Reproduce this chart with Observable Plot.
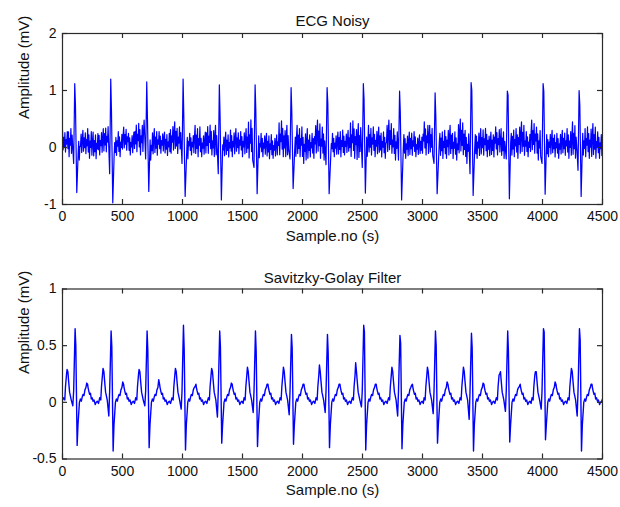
<!DOCTYPE html>
<html><head><meta charset="utf-8">
<script src="https://cdn.jsdelivr.net/npm/d3@7"></script>
<script src="https://cdn.jsdelivr.net/npm/@observablehq/plot@0.6"></script>
<style>
html,body{margin:0;padding:0;background:#fff;}
#chart{width:620px;height:507px;background:#fff;}
#chart svg{display:block;}
</style></head><body><div id="chart"></div>
<script>
// ---- tick labels ----
const xTicks = [0, 500, 1000, 1500, 2000, 2500, 3000, 3500, 4000, 4500];
const yTicksTop = [-1, 0, 1, 2];
const yTicksBottom = [-0.5, 0, 0.5, 1];
const titles = ["ECG Noisy", "Savitzky-Golay Filter"];
const xLabel = "Sample.no (s)";
const yLabel = "Amplitude (mV)";

// ---- beats (sample positions of R peaks) ----
const beatPos = [105, 405, 705, 1008, 1310, 1608, 1908, 2208, 2510, 2812, 3108, 3408, 3710, 4008, 4308];

// noisy ECG: QRS values per beat
const qNoisy  = [-0.28, -0.46, -0.20, -0.28, -0.46, -0.35, -0.20, -0.30, -0.35, -0.22, -0.28, -0.46, -0.20, -0.28, -0.40];
const rNoisy  = [1.12, 1.20, 1.15, 1.20, 1.10, 1.10, 1.05, 1.05, 1.12, 0.99, 0.96, 1.14, 0.99, 1.12, 1.00];
const r2Noisy = [0.74, 0.65, 0.51, 0.54, 0.57, 0.65, 0.61, 0.77, 0.84, 0.62, 0.55, 1.00, 0.92, 0.98, 0.74];
const sNoisy  = [-0.79, -0.97, -0.77, -0.86, -0.92, -0.81, -0.72, -0.81, -0.80, -0.92, -0.81, -0.84, -0.90, -0.82, -0.86];

// noisy ECG: upper / lower extent of the noise band in each 50-sample bin
const noiseHi = [
 0.30,0.42,0.22,0.30,0.36,0.27,0.33,0.39,0.22,0.30,
 0.36,0.27,0.45,0.48,0.25,0.33,0.30,0.27,0.45,0.39,
 0.22,0.27,0.39,0.27,0.42,0.39,0.25,0.27,0.33,0.30,
 0.33,0.52,0.25,0.27,0.25,0.22,0.50,0.39,0.25,0.39,
 0.33,0.27,0.48,0.39,0.25,0.27,0.33,0.30,0.50,0.42,
 0.25,0.39,0.36,0.30,0.48,0.36,0.25,0.27,0.30,0.22,
 0.48,0.39,0.25,0.33,0.39,0.30,0.50,0.33,0.25,0.33,
 0.36,0.27,0.39,0.33,0.25,0.36,0.45,0.30,0.48,0.39,
 0.25,0.30,0.27,0.30,0.36,0.45,0.25,0.39,0.42,0.30];
const noiseLo = [
 -0.10,-0.16,-0.22,-0.13,-0.19,-0.22,-0.13,-0.10,-0.22,-0.16,
 -0.07,-0.13,-0.10,-0.13,-0.22,-0.16,-0.10,-0.16,-0.10,-0.13,
 -0.22,-0.13,-0.19,-0.16,-0.13,-0.22,-0.20,-0.19,-0.16,-0.13,
 -0.16,-0.22,-0.20,-0.16,-0.22,-0.19,-0.16,-0.22,-0.20,-0.19,
 -0.28,-0.19,-0.16,-0.22,-0.20,-0.16,-0.19,-0.13,-0.19,-0.28,
 -0.20,-0.16,-0.16,-0.19,-0.13,-0.22,-0.20,-0.19,-0.16,-0.16,
 -0.13,-0.16,-0.20,-0.22,-0.19,-0.22,-0.16,-0.28,-0.20,-0.19,
 -0.16,-0.19,-0.13,-0.22,-0.20,-0.19,-0.16,-0.16,-0.13,-0.22,
 -0.20,-0.16,-0.19,-0.16,-0.19,-0.22,-0.20,-0.19,-0.22,-0.19];
// position of successive samples inside the band (0 = bottom, 1 = top), read from a close-up of the texture
const noiseTexture = [1.0, 0.15, 0.7, 0.3, 0.9, 0.05, 0.6, 0.4, 0.95, 0.2, 0.75, 0.0, 0.55, 0.35, 0.85, 0.1, 0.65];

// filtered ECG: wave values per beat
const pFilt  = [0.29, 0.30, 0.29, 0.30, 0.30, 0.31, 0.31, 0.33, 0.35, 0.31, 0.31, 0.31, 0.25, 0.27, 0.30];
const qFilt  = [-0.03, -0.12, -0.03, -0.06, -0.13, -0.09, -0.11, -0.09, -0.04, -0.12, -0.10, -0.15, -0.08, -0.06, -0.12];
const rFilt  = [0.65, 0.63, 0.63, 0.68, 0.63, 0.63, 0.60, 0.60, 0.68, 0.59, 0.63, 0.61, 0.63, 0.65, 0.65];
const r2Filt = [0.50, 0.49, 0.46, 0.47, 0.49, 0.45, 0.48, 0.44, 0.62, 0.52, 0.50, 0.48, 0.45, 0.62, 0.55];
const sFilt  = [-0.38, -0.43, -0.40, -0.42, -0.36, -0.39, -0.37, -0.40, -0.42, -0.41, -0.36, -0.43, -0.35, -0.33, -0.43];
const tFilt  = [0.17, 0.18, 0.20, 0.14, 0.17, 0.16, 0.16, 0.16, 0.16, 0.15, 0.18, 0.17, 0.14, 0.18, 0.16];
// beat outline: [offset from R (samples), value or wave name]
const beatShape = [[-95, 0.04], [-86, 0.02], [-80, 0.14], [-72, 0.24], [-67, "p"], [-60, 0.27], [-55, 0.2], [-46, 0.09],
  [-38, 0.05], [-32, 0.02], [-19, "q"], [-12, 0.1], [0, "r"], [6, "r2"], [17, "s"], [24, -0.2], [36, 0.0], [44, 0.03],
  [52, 0.01], [60, 0.05], [66, 0.07], [74, 0.06], [82, 0.11], [90, 0.13], [97, "t"], [104, 0.16], [108, 0.13],
  [114, 0.1], [121, 0.07], [128, 0.08], [135, 0.03], [142, 0.04], [150, 0.01], [158, 0.02], [168, -0.02],
  [176, 0.0], [185, 0.01], [195, -0.01]];
const filtStart = 0.02, filtEnd = 0.03;

// ---- build series ----
const waves = {p: pFilt, q: qFilt, r: rFilt, r2: r2Filt, s: sFilt, t: tFilt};
const filtered = [{x: 0, y: filtStart}];
beatPos.forEach((r, i) => {
  for (const [o, v] of beatShape) {
    const x = r + o;
    if (x > 0 && x < 4500) filtered.push({x, y: typeof v === "string" ? waves[v][i] : v});
  }
});
filtered.push({x: 4500, y: filtEnd});

const qrsPts = beatPos.flatMap((r, i) => [
  {x: r - 12, y: qNoisy[i]}, {x: r - 3, y: rNoisy[i]}, {x: r + 3, y: r2Noisy[i]}, {x: r + 14, y: sNoisy[i]}]);
const noisePts = [];
for (let i = 0, s = 0; s <= 4500; s += 5, i++) {
  if (beatPos.some(r => s > r - 22 && s < r + 24)) continue;
  const b = Math.min(noiseHi.length - 1, Math.floor(s / 50));
  noisePts.push({x: s, y: noiseLo[b] + noiseTexture[i % noiseTexture.length] * (noiseHi[b] - noiseLo[b])});
}
const noisy = [...noisePts, ...qrsPts].sort((a, b) => a.x - b.x);

// ---- drawing ----
const FONT = "'Liberation Sans', Arial, Helvetica, sans-serif";
function panel({data, yDomain, yTicks, title, height, marginTop, marginBottom, titleDy, xLabelDy, strokeWidth}) {
  const W = 620 - 62 - 18;
  const H = height - marginTop - marginBottom;
  const frameColor = "#2a2a2a";
  return Plot.plot({
    width: 620, height,
    marginLeft: 62, marginRight: 18, marginTop, marginBottom,
    style: {fontFamily: FONT, fontSize: "14px", color: "#111", background: "#fff", overflow: "visible"},
    x: {domain: [0, 4500]},
    y: {domain: yDomain},
    marks: [
      Plot.line(data, {x: "x", y: "y", stroke: "#0000ff", strokeWidth, clip: true}),
      Plot.frame({stroke: frameColor, strokeWidth: 1.2}),
      Plot.ruleX(xTicks, {x: d => d, insetTop: H - 5, stroke: frameColor, strokeWidth: 1.2}),
      Plot.ruleX(xTicks, {x: d => d, insetBottom: H - 5, stroke: frameColor, strokeWidth: 1.2}),
      Plot.ruleY(yTicks, {y: d => d, insetRight: W - 5, stroke: frameColor, strokeWidth: 1.2}),
      Plot.ruleY(yTicks, {y: d => d, insetLeft: W - 5, stroke: frameColor, strokeWidth: 1.2}),
      Plot.axisX({ticks: xTicks, tickSize: 0, tickPadding: 7, tickFormat: d => String(d), label: null, fontSize: 14}),
      Plot.axisY({ticks: yTicks, tickSize: 0, tickPadding: 6, tickFormat: d => String(d), label: null, fontSize: 14}),
      Plot.text([title], {frameAnchor: "top", dy: titleDy, text: d => d, fontSize: 15, fill: "#111"}),
      Plot.text([xLabel], {frameAnchor: "bottom", dy: xLabelDy, text: d => d, fontSize: 15, fill: "#111"}),
      Plot.text([yLabel], {frameAnchor: "left", dx: -38, rotate: -90, text: d => d, fontSize: 15, fill: "#111"})
    ]
  });
}

const root = document.getElementById("chart");
root.appendChild(panel({data: noisy, yDomain: [-1, 2], yTicks: yTicksTop, title: titles[0],
  height: 253, marginTop: 33, marginBottom: 49, titleDy: -18, xLabelDy: 36, strokeWidth: 1.2}));
root.appendChild(panel({data: filtered, yDomain: [-0.5, 1], yTicks: yTicksBottom, title: titles[1],
  height: 254, marginTop: 35.5, marginBottom: 48.5, titleDy: -17, xLabelDy: 35.5, strokeWidth: 1.4}));
</script>
</body></html>
